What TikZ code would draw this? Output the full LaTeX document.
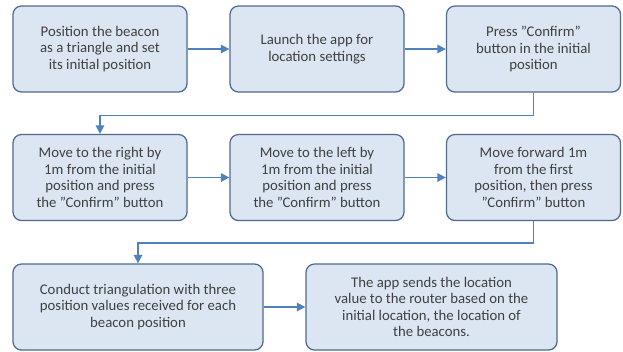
\documentclass[tikz,border=0pt]{standalone}
\usepackage{fontspec}
\setmainfont{Carlito}
\usepackage{tikz}
\usetikzlibrary{arrows.meta,positioning,calc}
\definecolor{boxfill}{HTML}{DCE6F2}
\definecolor{boxline}{HTML}{4F6A8C}
\definecolor{flowline}{HTML}{4F81BD}
\definecolor{txt}{HTML}{404040}
\tikzset{
  stepbox/.style={draw=boxline,fill=boxfill,line width=0.9pt,rounded corners=6pt,
    minimum width=174*0.025cm,minimum height=86*0.025cm,align=center,
    text=txt,font=\fontsize{10.5}{11.8}\selectfont,inner sep=2pt},
  widebox/.style={stepbox,minimum width=250*0.025cm},
  flow/.style={draw=flowline,line width=1.1pt,-{Triangle[length=6pt,width=6pt]}}
}
\begin{document}
\begin{tikzpicture}[x=0.025cm,y=-0.025cm]
\useasboundingbox (0,0) rectangle (623,351);
% first row
\node[stepbox] (b1) at (100,49) {Position the beacon\\as a triangle and set\\its initial position};
\node[stepbox] (b2) at (317,49) {Launch the app for\\location settings};
\node[stepbox] (b3) at (533.5,49) {Press "Confirm"\\button in the initial\\position};
% second row
\node[stepbox] (b4) at (100,177.5) {Move to the right by\\1m from the initial\\position and press\\the "Confirm" button};
\node[stepbox] (b5) at (317,177.5) {Move to the left by\\1m from the initial\\position and press\\the "Confirm" button};
\node[stepbox] (b6) at (533.5,177.5) {Move forward 1m\\from the first\\position, then press\\"Confirm" button};
% third row
\node[widebox] (b7) at (138,307) {Conduct triangulation with three\\position values received for each\\beacon position};
\node[widebox,minimum width=251*0.025cm] (b8) at (431.5,307) {The app sends the location\\value to the router based on the\\initial location, the location of\\the beacons.};
% connectors
\draw[flow] (b1) -- (b2);
\draw[flow] (b2) -- (b3);
\draw[flow] (b3.south) -- ++(0,23) -| (b4.north);
\draw[flow] (b4) -- (b5);
\draw[flow] (b5) -- (b6);
\draw[flow] (b6.south) -- ++(0,22) -| (b7.north);
\draw[flow] (b7) -- (b8);
\end{tikzpicture}
\end{document}
